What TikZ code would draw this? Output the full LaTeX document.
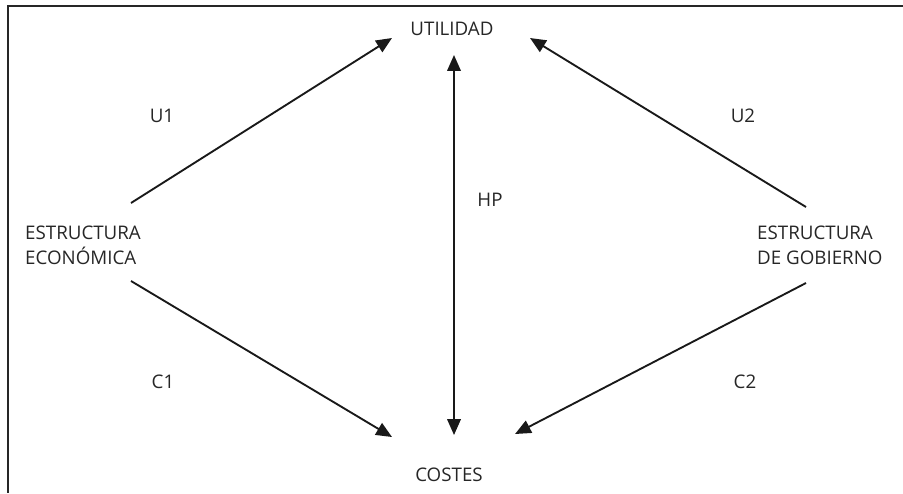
\documentclass[tikz,border=0pt]{standalone}
\usepackage{fontspec}
\setmainfont{Open Sans}
\usetikzlibrary{arrows.meta}
\begin{document}
\begin{tikzpicture}[x=0.03cm,y=-0.03cm,
  lbl/.style={inner sep=0pt, text=black!85, font=\fontsize{16}{21}\selectfont},
  conn/.style={line width=1.6pt, black!90, -{Triangle[length=13.5pt,width=11.5pt]}},
  dconn/.style={line width=1.6pt, black!90, {Triangle[length=13.5pt,width=11.5pt]}-{Triangle[length=13.5pt,width=11.5pt]}},
  frameline/.style={line width=1.7pt, black!85}]
\useasboundingbox (0,0) rectangle (903,493);
% frame (top and left only)
\coordinate (fa) at (903,6);
\coordinate (fb) at (8,6);
\coordinate (fc) at (8,493);
\draw[frameline] (fa) -- (fb) -- (fc);
% texts
\node[lbl] (util) at (452,29) {UTILIDAD};
\node[lbl] (cost) at (449,474.5) {COSTES};
\node[lbl, anchor=west, align=left] (eco) at (25,245.5) {ESTRUCTURA\\ECONÓMICA};
\node[lbl, anchor=west, align=left] (gob) at (757,245) {ESTRUCTURA\\DE GOBIERNO};
\node[lbl] (u1) at (162,116) {U1};
\node[lbl] (u2) at (743,116) {U2};
\node[lbl] (hp) at (490,200) {HP};
\node[lbl] (c1) at (163,382) {C1};
\node[lbl] (c2) at (745,382) {C2};
% arrow end points
\coordinate (ecoU) at (131,203);
\coordinate (ecoC) at (131,281);
\coordinate (gobU) at (806,207);
\coordinate (gobC) at (806,283);
\coordinate (utilL) at (392,38);
\coordinate (utilR) at (530,38);
\coordinate (utilM) at (454,55);
\coordinate (costL) at (392,437);
\coordinate (costR) at (515,434);
\coordinate (costM) at (454,435);
% connectors
\draw[conn] (ecoU) -- (utilL);
\draw[conn] (ecoC) -- (costL);
\draw[conn] (gobU) -- (utilR);
\draw[conn] (gobC) -- (costR);
\draw[dconn] (costM) -- (utilM);
\end{tikzpicture}
\end{document}
